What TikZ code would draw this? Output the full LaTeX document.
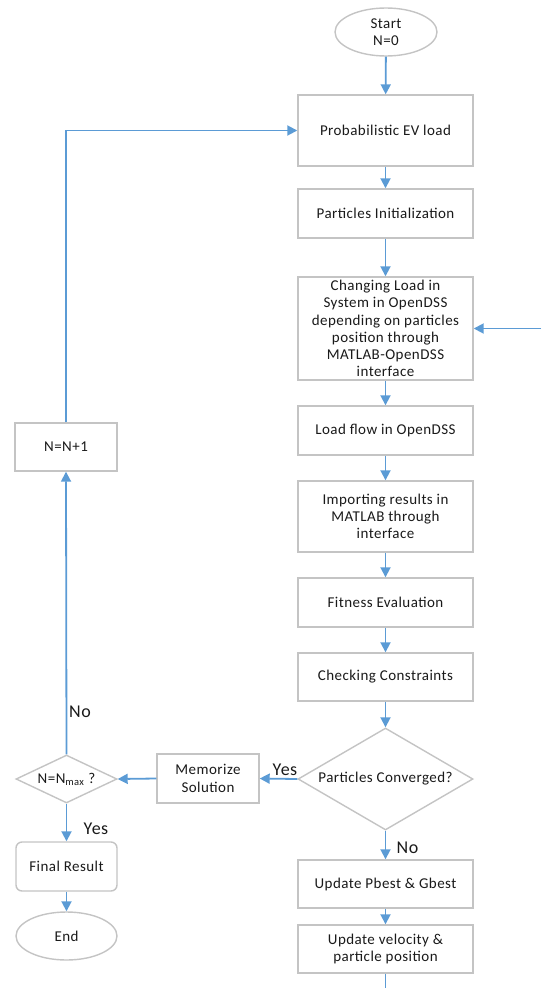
\documentclass[tikz,border=0pt]{standalone}
\usepackage{fontspec}
\setmainfont{Carlito}[LetterSpace=3]
\usetikzlibrary{shapes.geometric,arrows.meta}
\definecolor{edgeblue}{HTML}{5B9BD5}
\definecolor{boxgray}{HTML}{C4C4C4}
\definecolor{txt}{HTML}{1A1A1A}
\tikzset{
  base/.style={draw=boxgray, line width=1.4pt, fill=white, inner sep=0pt, align=center,
    font=\fontsize{15}{17.3}\selectfont, text=txt},
  box/.style={base, rectangle, minimum width=175pt},
  sbox/.style={base, rectangle, minimum width=102pt, minimum height=48pt},
  rbox/.style={sbox, rounded corners=6pt},
  oval/.style={base, ellipse, minimum width=102pt, minimum height=48pt},
  dia/.style={base, diamond},
  flow/.style={draw=edgeblue, line width=1.8pt, -{Triangle[length=10pt,width=10pt]}},
  flowline/.style={draw=edgeblue, line width=1.8pt},
  lbl/.style={font=\fontsize{18}{20}\selectfont, text=txt, anchor=base, inner sep=0pt}
}
\begin{document}
\begin{tikzpicture}[x=1pt,y=-1pt]
\useasboundingbox (0,0) rectangle (541,988);
% main column
\node[oval] (start) at (386,32) {Start\\N=0};
\node[box, minimum height=71pt] (b1) at (385.5,130.5) {Probabilistic EV load};
\node[box, minimum height=49pt] (b2) at (385.5,213.5) {Particles Initialization};
\node[box, minimum height=103pt] (b3) at (385.5,328.5) {Changing Load in\\System in OpenDSS\\depending on particles\\position through\\MATLAB-OpenDSS\\interface};
\node[box, minimum height=49pt] (b4) at (385.5,430.5) {Load flow in OpenDSS};
\node[box, minimum height=71pt] (b5) at (385.5,516.5) {Importing results in\\MATLAB through\\interface};
\node[box, minimum height=49pt] (b6) at (385.5,602.5) {Fitness Evaluation};
\node[box, minimum height=48pt] (b7) at (385.5,677) {Checking Constraints};
\node[dia, shape aspect=1.7, minimum width=175pt, minimum height=102pt] (conv) at (385.5,779) {Particles Converged?};
\node[box, minimum height=48pt] (pb) at (385.5,884) {Update Pbest \& Gbest};
\node[box, minimum height=48pt] (vel) at (385.5,949) {Update velocity \&\\particle position};
% left column
\node[sbox] (inc) at (66,447) {N=N+1};
\node[dia, shape aspect=2.1, minimum width=101pt, minimum height=48pt] (nmax) at (66.5,779) {N=N\textsubscript{max} ?};
\node[sbox, minimum height=49pt] (mem) at (208,778.5) {Memorize\\Solution};
\node[rbox, minimum width=101pt, minimum height=49pt] (fin) at (66.5,866.5) {Final Result};
\node[oval, minimum width=101pt] (end) at (66.5,936) {End};
% free ends
\coordinate (bot) at (385.5,988);
\coordinate (rin) at (541,328.5);
% connectors
\draw[flow] (start) -- (b1);
\draw[flow] (b1) -- (b2);
\draw[flow] (b2) -- (b3);
\draw[flow] (b3) -- (b4);
\draw[flow] (b4) -- (b5);
\draw[flow] (b5) -- (b6);
\draw[flow] (b6) -- (b7);
\draw[flow] (b7) -- (conv);
\draw[flow] (conv) -- (pb);
\draw[flow] (pb) -- (vel);
\draw[flowline] (vel.south) -- (bot);
\draw[flow] (rin) -- (b3.east);
\draw[flow] (conv.west) -- (mem.east);
\draw[flow] (mem.west) -- (nmax.east);
\draw[flow] (nmax.south) -- (fin.north);
\draw[flow] (fin) -- (end);
\draw[flow] (nmax.north) -- (inc.south);
\draw[flow] (inc.north) |- (b1.west);
% labels
\node[lbl] (lno1) at (80,717) {No};
\node[lbl] (lyes1) at (96,834) {Yes};
\node[lbl] (lyes2) at (285,775) {Yes};
\node[lbl] (lno2) at (407.5,853) {No};
\end{tikzpicture}
\end{document}
